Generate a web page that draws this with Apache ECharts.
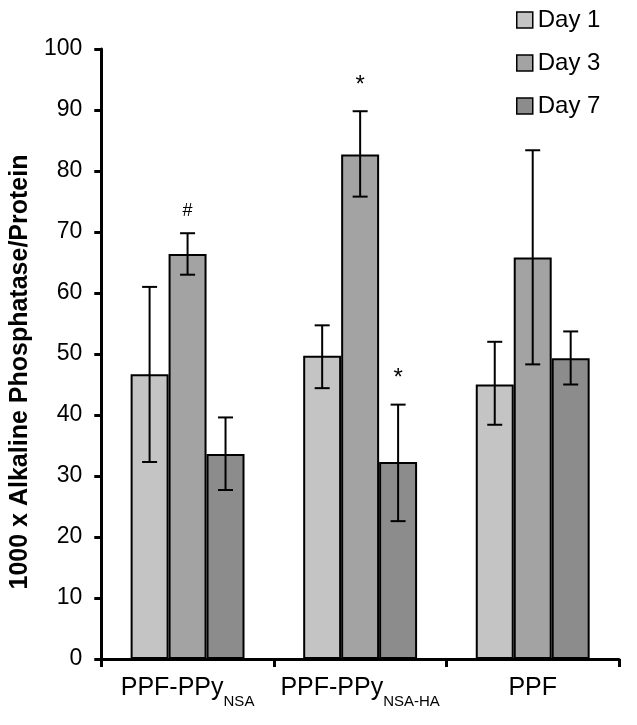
<!DOCTYPE html>
<html>
<head>
<meta charset="utf-8">
<script src="https://cdn.jsdelivr.net/npm/echarts@6/dist/echarts.min.js"></script>
<style>
html,body{margin:0;padding:0;background:#fff;}
#chart{width:637px;height:725px;}
</style>
</head>
<body>
<div id="chart"></div>
<script>
// ---- data ----
const categoryBase = ['PPF-PPy', 'PPF-PPy', 'PPF'];
const categorySub = ['NSA', 'NSA-HA', ''];
const categories = categoryBase.map((b, i) => b + categorySub[i]);
const seriesNames = ['Day 1', 'Day 3', 'Day 7'];

const day1 = [46.7, 49.7, 45.0];
const day1Hi = [61.0, 54.7, 52.0];
const day1Lo = [32.3, 44.4, 38.4];

const day3 = [66.4, 82.7, 65.8];
const day3Hi = [69.8, 89.8, 83.4];
const day3Lo = [63.0, 75.8, 48.3];

const day7 = [33.6, 32.3, 49.3];
const day7Hi = [39.6, 41.7, 53.7];
const day7Lo = [27.7, 22.6, 45.0];

const day1Marks = ['', '', ''];
const day3Marks = ['#', '*', ''];
const day7Marks = ['', '*', ''];

const yTicks = [0, 10, 20, 30, 40, 50, 60, 70, 80, 90, 100];
const yTitle = '1000 x Alkaline Phosphatase/Protein';

// ---- build ----
const values = [day1, day3, day7];
const his = [day1Hi, day3Hi, day7Hi];
const los = [day1Lo, day3Lo, day7Lo];
const marks = [day1Marks, day3Marks, day7Marks];
const colors = ['#c4c4c4', '#a3a3a3', '#8c8c8c'];
const BAR_RATIO = 0.22;
const FONT = '"Liberation Sans", Arial, sans-serif';

const errData = [];
const errMarks = [];
for (let s = 0; s < 3; s++) {
  for (let c = 0; c < categories.length; c++) {
    errData.push([c, his[s][c], los[s][c], s]);
    errMarks.push(marks[s][c]);
  }
}

const barSeries = seriesNames.map((n, s) => ({
  name: n,
  type: 'bar',
  data: values[s],
  barWidth: (BAR_RATIO * 100) + '%',
  barGap: '0%',
  itemStyle: { color: colors[s], borderColor: '#000', borderWidth: 2 }
}));

const errSeries = {
  type: 'custom',
  name: 'err',
  z: 10,
  encode: { x: 0, y: [1, 2] },
  data: errData,
  renderItem: function (params, api) {
    const c = api.value(0), hi = api.value(1), lo = api.value(2), s = api.value(3);
    const band = api.size([1, 0])[0];
    const x = api.coord([c, hi])[0] + (s - 1) * band * BAR_RATIO;
    const yHi = api.coord([c, hi])[1];
    const yLo = api.coord([c, lo])[1];
    const hw = 7.5;
    const st = { stroke: '#000', lineWidth: 2 };
    const children = [
      { type: 'line', shape: { x1: x, y1: yHi, x2: x, y2: yLo }, style: st },
      { type: 'line', shape: { x1: x - hw, y1: yHi, x2: x + hw, y2: yHi }, style: st },
      { type: 'line', shape: { x1: x - hw, y1: yLo, x2: x + hw, y2: yLo }, style: st }
    ];
    const m = errMarks[params.dataIndex];
    if (m) {
      children.push({
        type: 'text',
        style: {
          text: m, x: x, y: m === '*' ? yHi - 26 : yHi - 22,
          align: 'center', verticalAlign: 'middle',
          font: (m === '*' ? '24px ' : '18px ') + FONT, fill: '#000'
        }
      });
    }
    return { type: 'group', children: children };
  }
};

const chart = echarts.init(document.getElementById('chart'));
chart.setOption({
  animation: false,
  backgroundColor: '#fff',
  textStyle: { fontFamily: FONT },
  grid: { left: 97, right: 18, top: 49, bottom: 66 },
  legend: {
    data: seriesNames,
    orient: 'vertical',
    left: 516, top: 8,
    padding: 0,
    itemWidth: 16, itemHeight: 16,
    itemGap: 19,
    icon: 'rect',
    itemStyle: { borderColor: '#000', borderWidth: 1.5 },
    textStyle: { fontSize: 24, color: '#000', fontFamily: FONT }
  },
  xAxis: {
    type: 'category',
    data: categories,
    axisLine: { lineStyle: { color: '#000', width: 3 } },
    axisTick: { show: true, length: 8, lineStyle: { color: '#000', width: 3 } },
    axisLabel: {
      interval: 0,
      hideOverlap: false,
      margin: 17,
      formatter: function (v, i) {
        return '{m|' + categoryBase[i] + '}' + (categorySub[i] ? '{s|' + categorySub[i] + '}' : '');
      },
      rich: {
        m: { fontSize: 25, color: '#000', fontFamily: FONT, lineHeight: 33, verticalAlign: 'top' },
        s: { fontSize: 15, color: '#000', fontFamily: FONT, lineHeight: 33, verticalAlign: 'bottom' }
      }
    }
  },
  yAxis: {
    type: 'value',
    min: yTicks[0], max: yTicks[yTicks.length - 1], interval: 10,
    name: yTitle,
    nameLocation: 'middle',
    nameGap: 58,
    nameTextStyle: { fontSize: 25, fontWeight: 'bold', color: '#000', fontFamily: FONT, padding: [0, 36, 0, 0] },
    axisLine: { show: true, lineStyle: { color: '#000', width: 3 } },
    axisTick: { show: true, length: 7, lineStyle: { color: '#000', width: 3 } },
    splitLine: { show: false },
    axisLabel: { fontSize: 23, color: '#000', margin: 19, fontFamily: FONT }
  },
  series: barSeries.concat([errSeries])
});
</script>
</body>
</html>
